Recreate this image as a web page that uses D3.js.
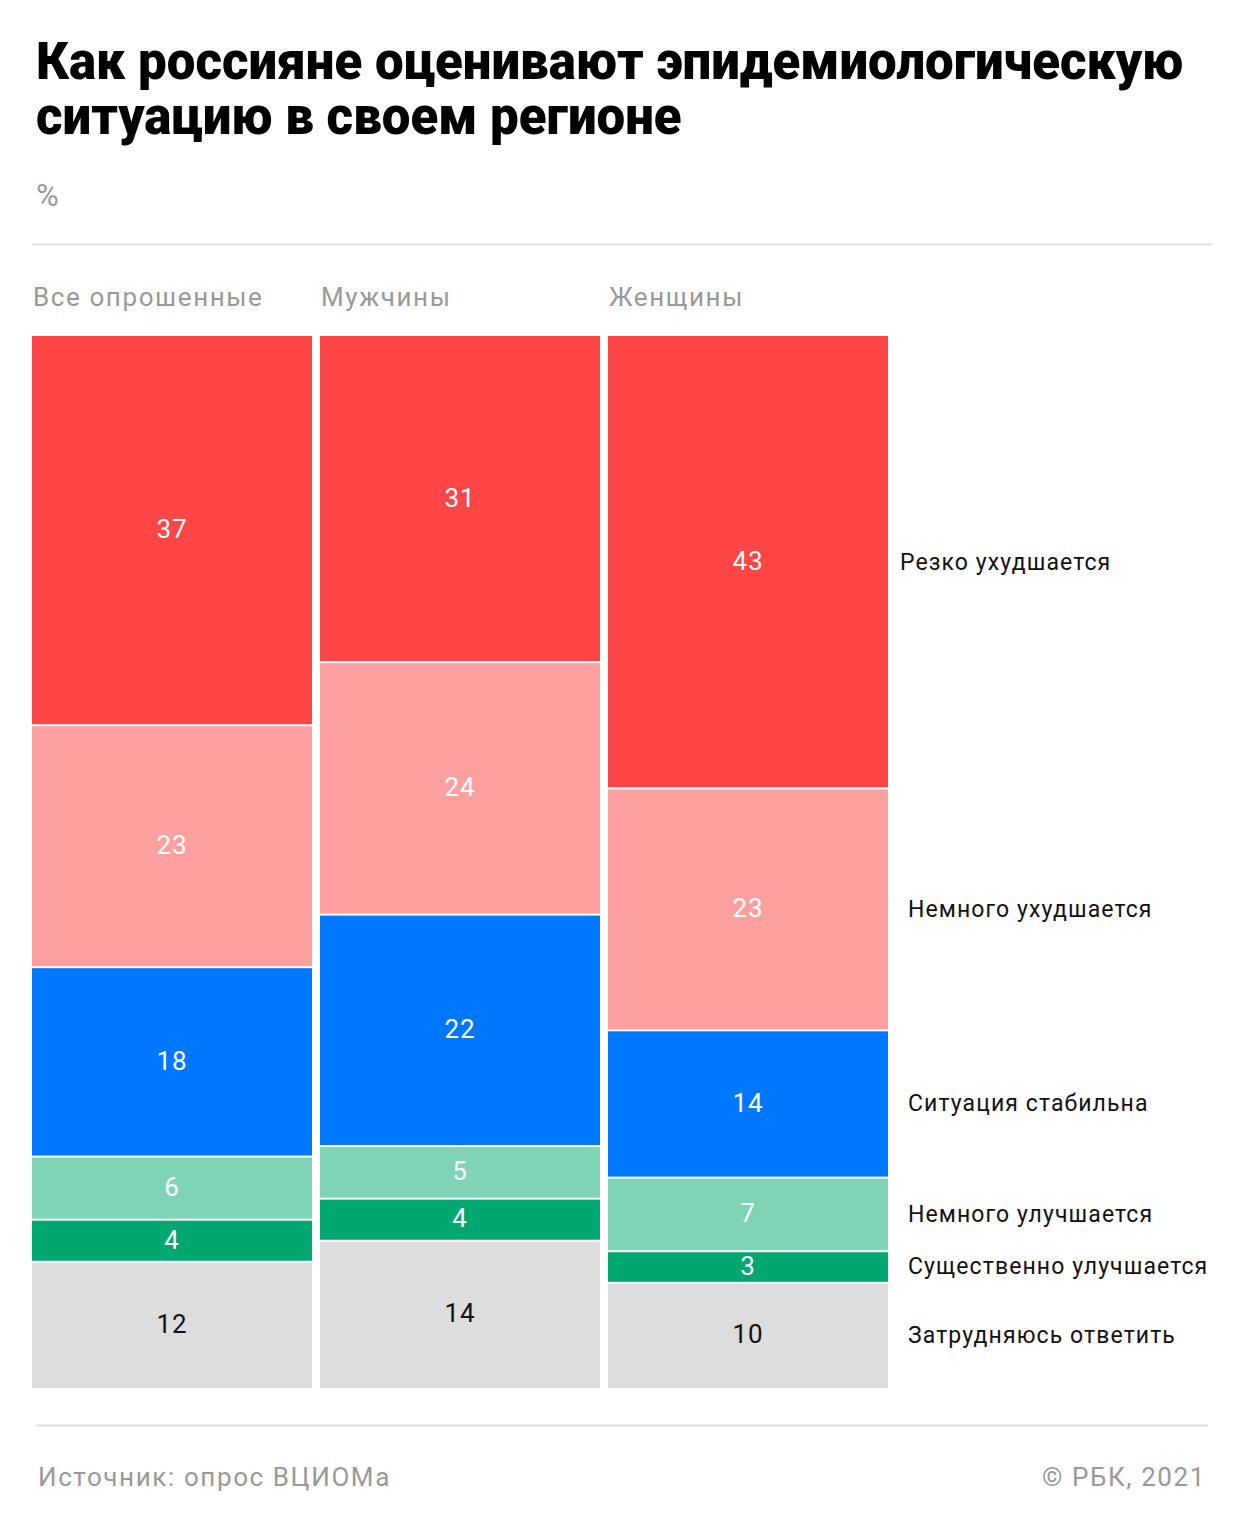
<!DOCTYPE html>
<html>
<head>
<meta charset="utf-8">
<script src="https://cdn.jsdelivr.net/npm/d3@7"></script>
<style>
  body { margin: 0; background: #fff; }
  svg { display: block; font-family: Roboto, "Noto Sans", sans-serif; }
</style>
</head>
<body>
<svg id="chart" width="1240" height="1528"></svg>
<script>
// Data
const groups = ["Все опрошенные", "Мужчины", "Женщины"];
const answers = [
  "Резко ухудшается",
  "Немного ухудшается",
  "Ситуация стабильна",
  "Немного улучшается",
  "Существенно улучшается",
  "Затрудняюсь ответить"
];
const sharplyWorse = [37, 31, 43];
const slightlyWorse = [23, 24, 23];
const stable = [18, 22, 14];
const slightlyBetter = [6, 5, 7];
const muchBetter = [4, 4, 3];
const hardToSay = [12, 14, 10];
const colors = ["#ff4545", "#ffa0a0", "#0077ff", "#80d4b6", "#00a870", "#dddddd"];
const textColors = ["#fff", "#fff", "#fff", "#fff", "#fff", "#111"];

const series = [sharplyWorse, slightlyWorse, stable, slightlyBetter, muchBetter, hardToSay];
const rows = groups.map(function (g, i) {
  const row = { group: g };
  answers.forEach(function (a, k) { row[a] = series[k][i]; });
  return row;
});

const svg = d3.select("#chart");

// Title
const title = svg.append("text")
  .attr("font-size", 51)
  .attr("font-weight", 900)
  .attr("fill", "#000");
title.append("tspan").attr("x", 36).attr("y", 79).text("Как россияне оценивают эпидемиологическую");
title.append("tspan").attr("x", 36).attr("y", 134).text("ситуацию в своем регионе");

svg.append("text")
  .attr("x", 36).attr("y", 206)
  .attr("font-size", 31).attr("fill", "#999")
  .text("%");

svg.append("line")
  .attr("x1", 32).attr("x2", 1212).attr("y1", 244.5).attr("y2", 244.5)
  .attr("stroke", "#e0e0e0").attr("stroke-width", 2);

// Scales
const x = d3.scaleBand().domain(groups).range([32, 888]).paddingInner(8 / 288);
const y = d3.scaleLinear().domain([0, 100]).range([336, 1388]);

const stack = d3.stack().keys(answers);
const stacked = stack(rows);

// Column headers
svg.append("g").selectAll("text")
  .data(groups)
  .enter()
  .append("text")
  .attr("x", function (d) { return x(d) + 1; })
  .attr("y", 306)
  .attr("font-size", 26)
  .attr("letter-spacing", 1.6)
  .attr("fill", "#999")
  .text(function (d) { return d; });

// Bars
const layers = svg.append("g").selectAll("g.layer")
  .data(stacked)
  .enter()
  .append("g")
  .attr("class", "layer")
  .attr("fill", function (d, i) { return colors[i]; });

layers.selectAll("rect")
  .data(function (d) { return d; })
  .enter()
  .append("rect")
  .attr("x", function (d) { return x(d.data.group); })
  .attr("width", x.bandwidth())
  .attr("y", function (d) { return y(d[0]) + (d[0] > 0 ? 1 : 0); })
  .attr("height", function (d) { return y(d[1]) - y(d[0]) - (d[0] > 0 ? 1 : 0) - (d[1] < 100 ? 1 : 0); });

// Value labels
layers.selectAll("text")
  .data(function (d) { return d.map(function (p) { return { p: p, k: d.index }; }); })
  .enter()
  .append("text")
  .attr("x", function (d) { return x(d.p.data.group) + x.bandwidth() / 2; })
  .attr("y", function (d) { return y((d.p[0] + d.p[1]) / 2); })
  .attr("dy", "0.3em")
  .attr("text-anchor", "middle")
  .attr("font-size", 26)
  .attr("letter-spacing", 1)
  .attr("fill", function (d) { return textColors[d.k]; })
  .text(function (d) { return d.p[1] - d.p[0]; });

// Right-side legend, aligned with the last column
const last = groups[groups.length - 1];
svg.append("g").selectAll("text")
  .data(stacked)
  .enter()
  .append("text")
  .attr("x", function (d, i) { return i === 0 ? 900 : 908; })
  .attr("y", function (d) {
    const p = d.find(function (q) { return q.data.group === last; });
    return y((p[0] + p[1]) / 2);
  })
  .attr("dy", "0.32em")
  .attr("font-size", 23)
  .attr("letter-spacing", 1.1)
  .attr("fill", "#111")
  .text(function (d) { return d.key; });

// Footer
svg.append("line")
  .attr("x1", 36).attr("x2", 1208).attr("y1", 1425.5).attr("y2", 1425.5)
  .attr("stroke", "#e0e0e0").attr("stroke-width", 2);

svg.append("text")
  .attr("x", 38).attr("y", 1486)
  .attr("font-size", 26).attr("letter-spacing", 1.6).attr("fill", "#999")
  .text("Источник: опрос ВЦИОМа");

svg.append("text")
  .attr("x", 1206).attr("y", 1486)
  .attr("text-anchor", "end")
  .attr("font-size", 26).attr("letter-spacing", 1.6).attr("fill", "#999")
  .text("©  РБК, 2021");
</script>
</body>
</html>
